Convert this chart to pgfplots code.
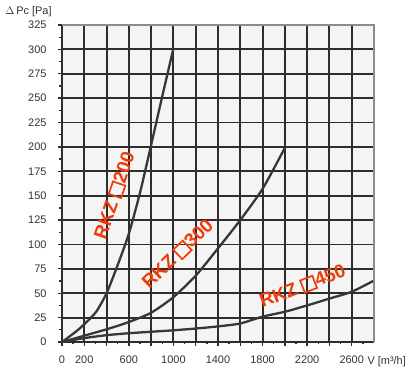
\documentclass[border=0pt]{standalone}
\usepackage{fontspec}
\setmainfont{Liberation Sans}
\usepackage{pgfplots}
\pgfplotsset{compat=1.18}
\definecolor{lbl}{RGB}{240,60,10}
\definecolor{grd}{RGB}{45,45,45}
\definecolor{crv}{RGB}{55,55,55}
\definecolor{bg}{RGB}{244,244,244}
\newcommand{\sq}{{\setlength{\fboxsep}{0pt}\setlength{\fboxrule}{1.7bp}\fbox{\rule{0pt}{0.6em}\hspace{0.6em}}}}
\begin{document}
\begin{tikzpicture}
\begin{axis}[
  scale only axis, width=312bp, height=317bp,
  xmin=0, xmax=2800, ymin=0, ymax=325,
  axis x line*=bottom, axis y line*=left,
  axis line style={grd, line width=1.5bp},
  xtick={0,200,...,2600},
  xticklabels={0,200,,600,,1000,,1400,,1800,,2200,,2600},
  minor xtick={100,300,...,2700},
  ytick={0,25,...,325},
  minor ytick={12.5,37.5,...,312.5},
  tick align=outside,
  major tick length=4bp, minor tick length=2.5bp,
  tick style={grd, line width=1.3bp},
  xmajorgrids=true, ymajorgrids=true,
  major grid style={solid, draw=grd, line width=1.9bp},
  tick label style={font=\fontsize{11}{13}\selectfont, text=black!80},
  /pgf/number format/assume math mode=true,
  /pgf/number format/1000 sep={},
  xticklabel style={yshift=-6bp},
  yticklabel style={xshift=-8bp},
  axis background/.style={fill=bg},
  clip=false,
]
\addplot[crv, line width=2.3bp, smooth, tension=0.4] coordinates {
 (0,0) (150,13) (300,30) (400,50) (500,79) (600,111) (700,153) (800,202) (900,252) (1000,301)};
\addplot[crv, line width=2.3bp, smooth, tension=0.4] coordinates {
 (0,0) (400,13) (600,20.5) (800,30) (1000,46) (1200,68) (1400,96) (1600,125) (1800,157) (2000,199)};
\addplot[crv, line width=2.3bp, smooth, tension=0.4] coordinates {
 (0,0) (200,4) (400,7) (600,9) (800,10.5) (1000,12) (1200,13.8) (1400,16) (1600,19) (1800,26) (2000,31) (2200,37.5) (2400,44.5) (2600,51.5) (2800,63)};
\draw[black!45, line width=1.5bp] (axis cs:0,325) -- (axis cs:2800,325) -- (axis cs:2800,0);
\node[lbl, font=\fontsize{19}{22}\selectfont\bfseries, rotate=71] at (axis cs:475,150) {RKZ \sq200};
\node[lbl, font=\fontsize{19}{22}\selectfont\bfseries, rotate=44] at (axis cs:1040,90) {RKZ \sq300};
\node[lbl, font=\fontsize{19}{22}\selectfont\bfseries, rotate=21] at (axis cs:2160,57) {RKZ \sq450};
\node[anchor=center, font=\fontsize{11}{13}\selectfont, text=black!80] at ([shift={(-33.5bp,13bp)}]rel axis cs:0,1) {$\Delta$\,Pc [Pa]};
\node[anchor=west, font=\fontsize{11}{13}\selectfont, text=black!80] at ([shift={(302bp,-20bp)}]rel axis cs:0,0) {V [m³/h]};
\coordinate (O) at (rel axis cs:0,0);
\end{axis}
\pgfresetboundingbox
\path[use as bounding box] ([shift={(-62bp,-35bp)}]O) rectangle ++(420bp,377bp);
\end{tikzpicture}
\end{document}
